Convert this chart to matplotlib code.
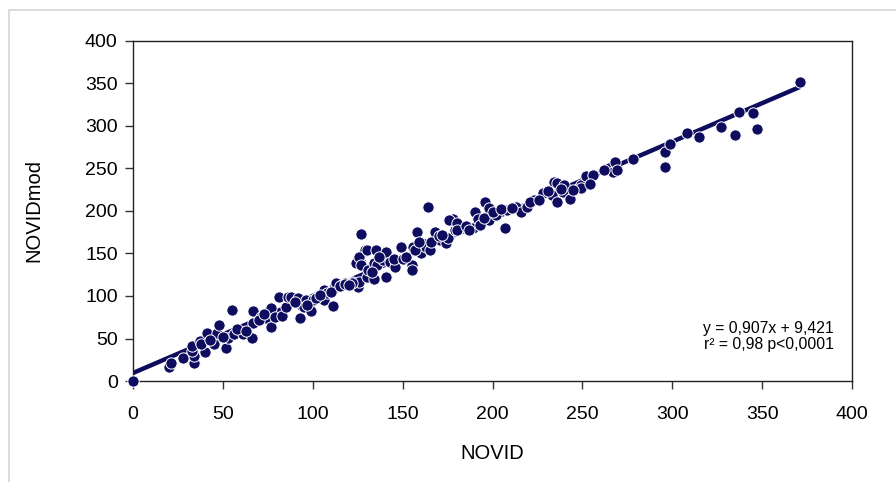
import matplotlib
matplotlib.use('Agg')
import matplotlib.pyplot as plt
from matplotlib.patches import Rectangle

plt.rcParams['font.family'] = ['Liberation Sans', 'DejaVu Sans']

# NOVID vs NOVIDmod
novid = [0, 20, 21, 28, 34, 34, 33, 33, 37, 40, 41, 45, 47, 48, 52, 53, 56, 55, 61, 66,
         67, 67, 71, 74, 77, 77, 79, 81, 83, 85, 86, 88, 92, 93, 94, 96, 95, 99, 100, 106,
         106, 108, 111, 112, 113, 121, 122, 125, 126, 127, 130, 127, 129, 124, 126, 127, 130, 131, 134, 134,
         135, 136, 139, 141, 143, 141, 146, 149, 155, 155, 156, 158, 160, 161, 163, 165, 168, 171, 174, 175,
         178, 179, 182, 122, 118, 116, 164, 176, 180, 180, 190, 189, 194, 196, 198, 198, 202, 207, 208, 213,
         216, 219, 223, 228, 233, 234, 236, 236, 239, 240, 243, 248, 249, 249, 252, 256, 265, 267, 268, 269,
         278, 296, 299, 296, 308, 315, 327, 335, 337, 345, 347, 371,
         38, 43, 50, 58, 63, 70, 73, 90, 97, 102, 104, 110, 115, 118, 120, 133, 137, 145, 150, 152,
         157, 159, 166, 170, 172, 185, 187, 192, 193, 195, 200, 205, 211, 221, 226, 231, 238, 245, 254, 262]
novidmod = [0, 16, 21, 27, 21, 29, 35, 41, 47, 34, 56, 44, 57, 66, 39, 51, 55, 84, 55, 51,
            68, 82, 75, 74, 86, 64, 75, 99, 76, 87, 99, 99, 98, 74, 88, 95, 87, 82, 95, 107,
            95, 103, 88, 109, 115, 115, 116, 111, 116, 139, 122, 173, 154, 139, 146, 136, 154, 131, 120, 139,
            154, 136, 142, 152, 140, 122, 134, 158, 136, 131, 158, 175, 151, 162, 158, 154, 175, 166, 162, 168,
            191, 178, 181, 115, 115, 113, 205, 189, 186, 178, 199, 180, 187, 211, 189, 204, 195, 180, 201, 205,
            199, 205, 213, 221, 219, 234, 233, 211, 222, 231, 214, 227, 231, 227, 241, 242, 251, 246, 258, 248,
            261, 269, 279, 252, 292, 287, 299, 289, 316, 315, 297, 352,
            44, 48, 52, 61, 59, 72, 79, 93, 90, 98, 101, 105, 112, 114, 113, 128, 146, 143, 144, 146,
            154, 163, 164, 170, 172, 182, 178, 190, 184, 192, 199, 202, 204, 210, 213, 224, 226, 225, 232, 248]

slope = 0.907
intercept = 9.421
fit_x = [0, 371]

navy = '#0e0c5e'

fig = plt.figure(figsize=(8.96, 4.82), dpi=100)
fig.patches.append(Rectangle((9 / 896, -0.1), 1.2, 1 - 10 / 482 + 0.1,
                             transform=fig.transFigure, fill=False,
                             edgecolor='#d4d4d4', linewidth=1.2))
ax = fig.add_axes([133 / 896, 1 - 381 / 482, (852 - 133) / 896, (381 - 41) / 482])

ax.plot(fit_x, [slope * v + intercept for v in fit_x], color=navy, lw=3.2, zorder=2,
        solid_capstyle='butt')
ax.scatter(novid, novidmod, s=66, color=navy, edgecolors='white', linewidths=0.7,
           zorder=3, clip_on=False)

ax.set_xlim(0, 400)
ax.set_ylim(0, 400)
ax.set_xticks(range(0, 401, 50))
ax.set_yticks(range(0, 401, 50))
ax.tick_params(direction='out', length=6, width=1, labelsize=14, pad=5, color='#333333')
ax.tick_params(axis='x', pad=12)
for s in ax.spines.values():
    s.set_linewidth(1)
    s.set_color('#222222')

ax.set_xlabel('NOVID', fontsize=14.5, labelpad=15)
ax.set_ylabel('NOVIDmod', fontsize=14.5, labelpad=30)

ax.text(0.975, 0.085, 'y = 0,907x + 9,421\nr² = 0,98 p<0,0001', transform=ax.transAxes,
        ha='right', va='bottom', fontsize=11.3, linespacing=1.05)

fig.savefig('out.png', dpi=100)
